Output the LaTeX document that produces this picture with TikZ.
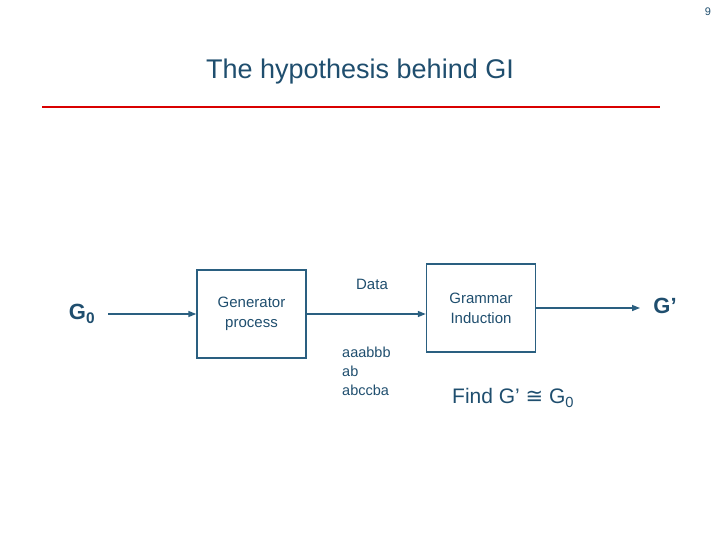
\documentclass[tikz,border=0pt]{standalone}
\usepackage{fontspec}
\setmainfont{Liberation Sans}
\newfontfamily\djv{DejaVu Sans}
\usetikzlibrary{arrows.meta}
\definecolor{ln}{HTML}{2A5F80}
\definecolor{tx}{HTML}{1F4E6E}
\begin{document}
\begin{tikzpicture}[x=1pt,y=-1pt,
  box/.style={draw=ln,line width=1.4pt,minimum width=109pt,minimum height=88pt,inner sep=0pt,align=center,text=tx,font=\fontsize{15}{20}\selectfont},
  lbl/.style={text=tx,font=\fontsize{15}{20}\selectfont,align=left,inner sep=0pt},
  arr/.style={draw=ln,line width=1.4pt,-{Triangle[length=8pt,width=6pt]}}]
\useasboundingbox (0,0) rectangle (720,540);
\node[text=tx,font=\fontsize{11}{12}\selectfont] (pg) at (708,12) {9};
\node[text=tx,font=\fontsize{27}{30}\selectfont] (title) at (360,72) {The hypothesis behind GI};
\coordinate (r1) at (42,107); \coordinate (r2) at (660,107);
\draw[red!85!black,line width=2.5pt] (r1) -- (r2);
\node[text=tx,font=\fontsize{22}{24}\selectfont\bfseries] (g0) at (82,314) {G\textsubscript{0}};
\node[box] (gen) at (251.5,314) {Generator\\process};
\node[box] (gi) at (481,308) {Grammar\\Induction};
\node[text=tx,font=\fontsize{22}{24}\selectfont\bfseries] (gp) at (665,306) {G’};
\coordinate (a0) at (108,314);
\draw[arr] (a0) -- (gen.west);
\draw[arr] (gen.east) -- (gi.west |- gen.east);
\coordinate (a3) at (640,308);
\draw[arr] (gi.east) -- (a3);
\node[lbl] (data) at (372,284) {Data};
\node[lbl,anchor=north west,font=\fontsize{14.5}{19}\selectfont] (ex) at (342,347) {aaabbb\\ab\\abccba};
\node[lbl,anchor=west,font=\fontsize{21}{24}\selectfont] (find) at (452,398) {Find G’ {\djv ≅} G\textsubscript{0}};
\end{tikzpicture}
\end{document}
